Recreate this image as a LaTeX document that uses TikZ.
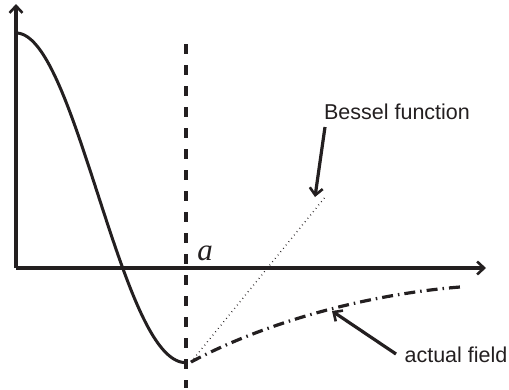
\documentclass[tikz,border=0pt]{standalone}
\usepackage{fontspec}
\setmainfont{Liberation Sans}
\newfontfamily\serifit{Liberation Serif}
\usetikzlibrary{arrows.meta}
\definecolor{ink}{HTML}{231F20}
\begin{document}
\begin{tikzpicture}[x=1pt,y=-1pt,
  declare function={bj(\u)=1-\u*(1-\u/4*(1-\u/9*(1-\u/16*(1-\u/25*(1-\u/36*(1-\u/49))))));},
  axis/.style={draw=ink,line width=3.2pt,-{Straight Barb[length=7pt,width=13pt,line width=2.6pt]}},
  curve/.style={draw=ink,line width=3pt},
  pointer/.style={draw=ink,line width=3.2pt,-{Straight Barb[length=7pt,width=13pt,line width=2.6pt]}},
  lbl/.style={text=ink,font=\fontsize{21.5}{24}\selectfont,inner sep=0pt}]
\useasboundingbox (0,0) rectangle (509,389);
% axes
\coordinate (O) at (16,268);
\coordinate (ytip) at (16,4);
\coordinate (xtip) at (486,268);
\draw[axis] (O) -- (ytip);
\draw[axis] (O) -- (xtip);
% boundary line
\coordinate (vtop) at (186,44);
\coordinate (vbot) at (186,388);
\draw[draw=ink,line width=3.2pt,dash pattern=on 10pt off 11pt] (vtop) -- (vbot);
\node[text=ink,font=\serifit\itshape\fontsize{31}{31}\selectfont,inner sep=0pt] (a) at (205,253) {a};
% Bessel J0 inside
\draw[curve] plot[domain=0:3.8317,samples=90,variable=\t] ({16+\t*170/3.8317},{268-235*bj(\t*\t/4)});
% continuation
\coordinate (s) at (191,362);
\coordinate (bend) at (326,196);
\coordinate (fend) at (460,287);
\draw[draw=ink,line width=1.4pt,dash pattern=on 0.7pt off 3.6pt] (s) -- (bend);
\draw[draw=ink,line width=3.2pt,dash pattern=on 11pt off 5pt on 1.5pt off 5pt] (s) .. controls (260,325) and (360,295) .. (fend);
% labels
\node[lbl] (bl) at (397,112) {Bessel function};
\node[lbl] (al) at (456,355) {actual field};
\coordinate (bstart) at (325,127);
\coordinate (astart) at (396,354);
\coordinate (btip) at (315,197);
\coordinate (atip) at (332,311);
\draw[pointer] (bstart) -- (btip);
\draw[pointer] (astart) -- (atip);
\end{tikzpicture}
\end{document}
